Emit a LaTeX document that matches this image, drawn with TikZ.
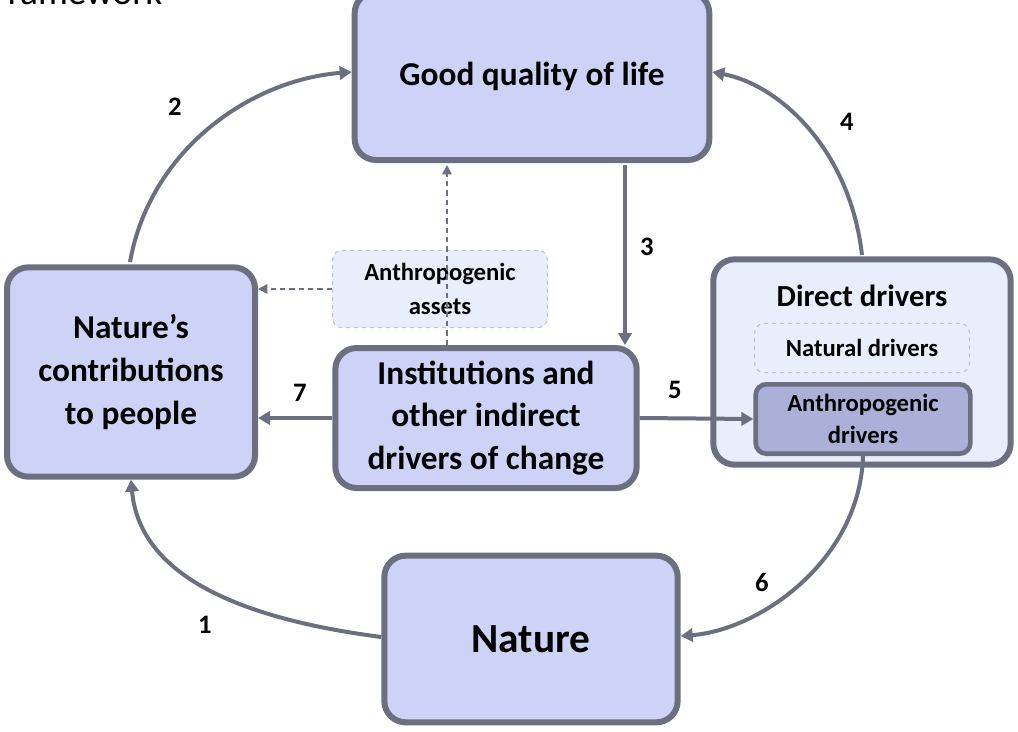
\documentclass[tikz,border=0pt]{standalone}
\usepackage{fontspec}
\setmainfont{Carlito}
\usetikzlibrary{arrows.meta}
\definecolor{bord}{HTML}{6B6F80}
\definecolor{boxf}{HTML}{CDD3F6}
\definecolor{lightf}{HTML}{E8EEFC}
\definecolor{darkf}{HTML}{AAB0D8}
\definecolor{dashc}{HTML}{B8C0EA}
\begin{document}
\begin{tikzpicture}[x=0.75pt,y=-0.75pt,
  box/.style={draw=bord,line width=4.5pt,rounded corners=16pt,fill=boxf,align=center,font=\bfseries\fontsize{25}{32}\selectfont},
  dbox/.style={draw=dashc,dashed,line width=0.8pt,rounded corners=7pt,fill=lightf,align=center,font=\bfseries\fontsize{18.5}{25}\selectfont},
  arr/.style={draw=bord,line width=3pt,-{Triangle[length=9pt,width=10pt]}},
  darr/.style={draw=bord,line width=1.2pt,dash pattern=on 4pt off 3pt,-{Triangle[length=7pt,width=7pt]}},
  num/.style={font=\bfseries\fontsize{20}{20}\selectfont}]
\useasboundingbox (0,0) rectangle (1018,732);
\node[anchor=base west,font=\fontsize{28}{30}\selectfont] (ttl) at (-14,4) {Framework};
\node[box,minimum width=266pt,minimum height=126pt] (gql) at (532,76) {Good quality of life};
\node[box,minimum width=186pt,minimum height=157pt] (ncp) at (131,372) {Nature’s\\contributions\\to people};
\node[box,minimum width=226pt,minimum height=105pt] (inst) at (486,418) {Institutions and\\other indirect\\drivers of change};
\node[box,fill=lightf,minimum width=223pt,minimum height=154pt] (dd) at (862,362) {};
\node[font=\bfseries\fontsize{23}{24}\selectfont] (ddt) at (862,296) {Direct drivers};
\node[dbox,minimum width=161pt,minimum height=37pt] (nat) at (862,348) {Natural drivers};
\node[box,fill=darkf,line width=3.5pt,rounded corners=8pt,minimum width=161pt,minimum height=52pt,font=\bfseries\fontsize{18.5}{24}\selectfont] (anth) at (863,419) {Anthropogenic\\drivers};
\node[box,minimum width=220pt,minimum height=125pt,font=\bfseries\fontsize{31}{32}\selectfont] (nature) at (531,639) {Nature};
\node[dbox,minimum width=161pt,minimum height=58pt] (assets) at (440,289) {Anthropogenic\\assets};
% arrows
\draw[arr] (130,262) .. controls (150,150) and (250,80) .. (gql.west |- 0,72);
\draw[arr] (862,255) .. controls (850,150) and (780,85) .. (gql.east |- 0,72);
\draw[arr] (625,165) -- (inst.north -| 625,0);
\draw[arr] (inst.west) -- (inst.west -| ncp.east);
\draw[arr] (inst.east) -- (anth.west);
\draw[arr] (anth.south) .. controls (860,560) and (760,630) .. (nature.east |- 0,636);
\draw[arr] (nature.west |- 0,637) .. controls (250,620) and (140,580) .. (ncp.south);
\draw[darr] (inst.north -| 447,0) -- (447,165);
\draw[darr] (assets.west) -- (assets.west -| ncp.east);
\node[num] (n2) at (175,107) {2};
\node[num] (n4) at (847,122) {4};
\node[num] (n3) at (647,247) {3};
\node[num] (n7) at (300,393) {7};
\node[num] (n5) at (675,390) {5};
\node[num] (n6) at (762,582) {6};
\node[num] (n1) at (205,625) {1};
\end{tikzpicture}
\end{document}
